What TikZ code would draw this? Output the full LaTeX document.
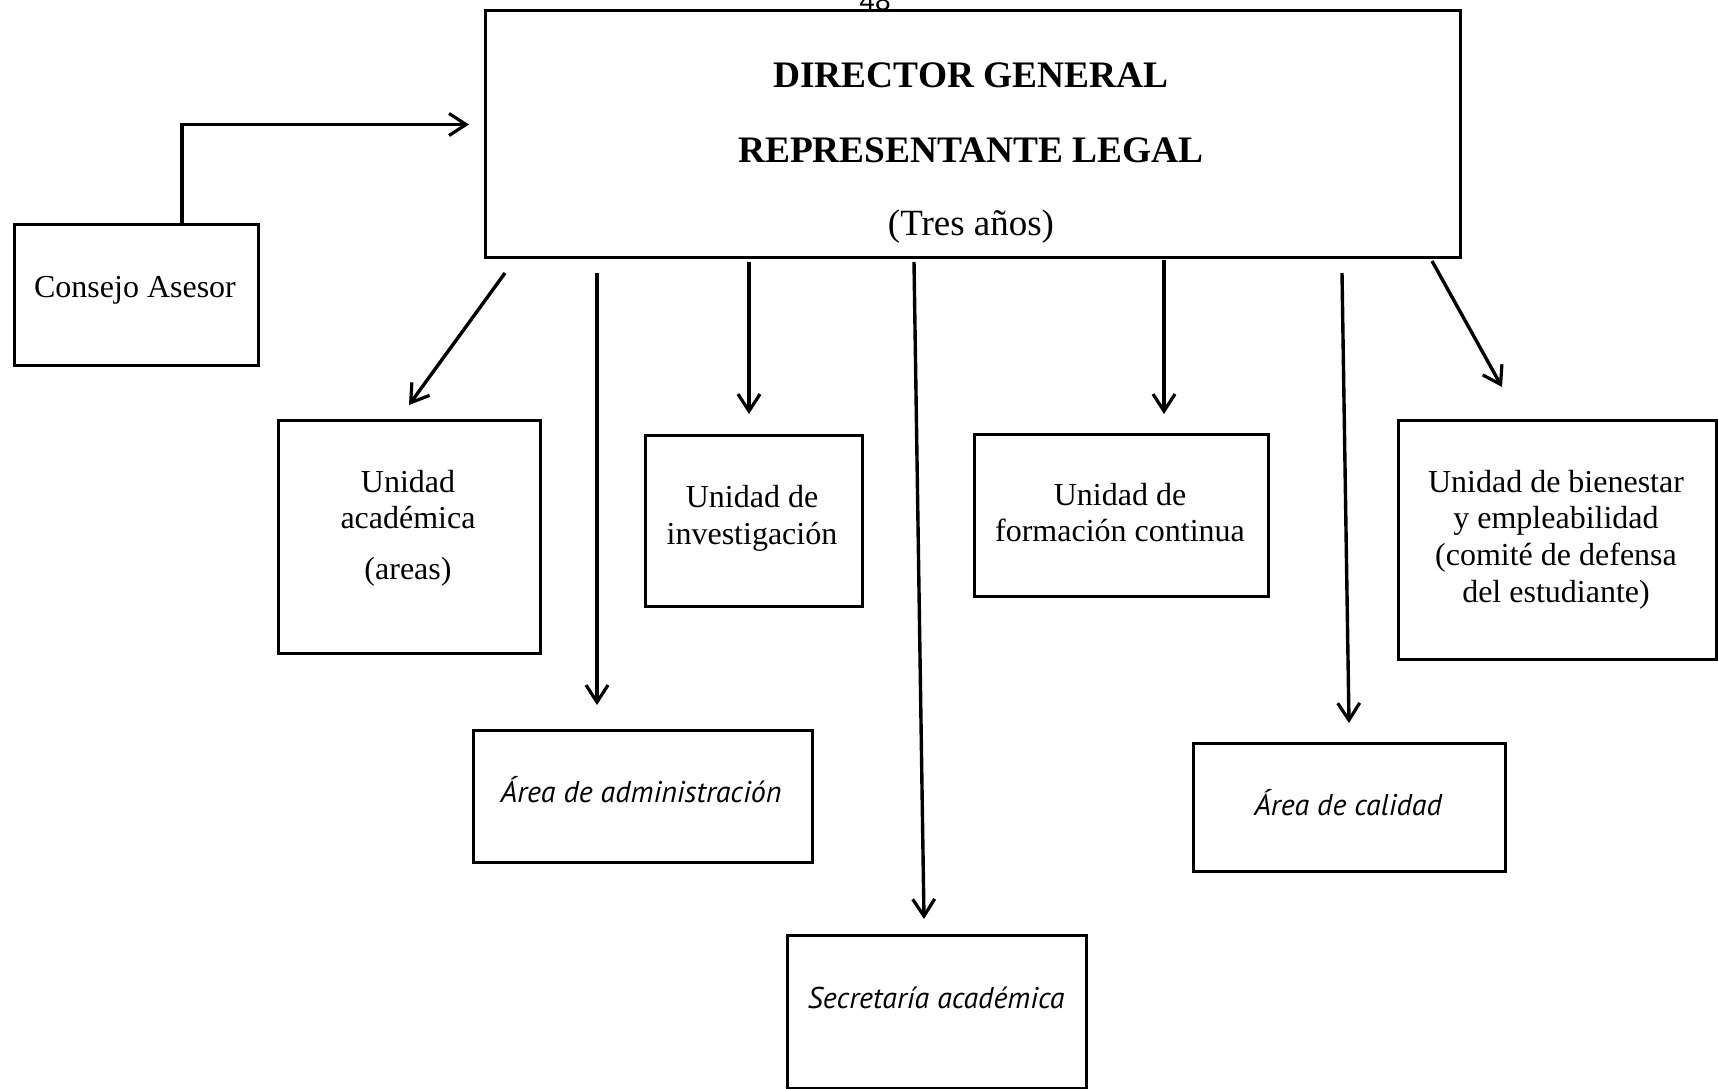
\documentclass[tikz,border=0pt]{standalone}
\usepackage{fontspec}
\setmainfont{Liberation Serif}
\newfontfamily\gillit{PT Sans}
\newfontfamily\pagefont{Liberation Sans}
\usetikzlibrary{arrows.meta,calc}
\begin{document}
\begin{tikzpicture}[x=1pt,y=-1pt,
  box/.style={draw,line width=3pt,anchor=north west,inner sep=0pt},
  txt/.style={anchor=base,inner sep=0pt,font=\fontsize{32}{36}\selectfont},
  ttl/.style={anchor=base,inner sep=0pt,font=\fontsize{37.4}{40}\selectfont\bfseries},
  itx/.style={anchor=base,inner sep=0pt,font=\gillit\fontsize{30}{34}\selectfont\itshape},
  arr/.style={line width=3.4pt,-{Straight Barb[length=17pt,width=22pt,line width=3.2pt]}}]
\fill[white] (0,0) rectangle (1718,1088);
\useasboundingbox (0,0) rectangle (1718,1088);
\begin{scope}
\clip (0,0) rectangle (1718,1088);
\node[anchor=base,inner sep=0pt,font=\pagefont\fontsize{28}{30}\selectfont] (pg) at (875,10) {48};
\end{scope}
% boxes
\node[box,minimum width=975pt,minimum height=247pt] (main) at (484,9) {};
\node[box,minimum width=244pt,minimum height=141pt] (cons) at (13,223) {};
\node[box,minimum width=262pt,minimum height=233pt] (acad) at (277,419) {};
\node[box,minimum width=217pt,minimum height=171pt] (inv) at (644,434) {};
\node[box,minimum width=294pt,minimum height=162pt] (form) at (973,433) {};
\node[box,minimum width=318pt,minimum height=239pt] (bien) at (1397,419) {};
\node[box,minimum width=339pt,minimum height=132pt] (admin) at (472,729) {};
\node[box,minimum width=312pt,minimum height=128pt] (cal) at (1192,742) {};
\node[box,minimum width=299pt,minimum height=153pt] (secr) at (786,934) {};
% texts
\node[ttl] (t1) at (971,87) {DIRECTOR GENERAL};
\node[ttl] (t2) at (971,162) {REPRESENTANTE LEGAL};
\node[anchor=base,inner sep=0pt,font=\fontsize{37}{40}\selectfont] (t3) at (971,235) {(Tres años)};
\node[txt] (c1) at (135,297) {Consejo Asesor};
\node[txt] (a1) at (408,492) {Unidad};
\node[txt] (a2) at (408,528) {académica};
\node[txt] (a3) at (408,579) {(areas)};
\node[txt] (i1) at (752,507) {Unidad de};
\node[txt] (i2) at (752,544) {investigación};
\node[txt] (f1) at (1120,505) {Unidad de};
\node[txt] (f2) at (1120,541) {formación continua};
\node[txt] (b1) at (1556,492) {Unidad de bienestar};
\node[txt] (b2) at (1556,528) {y empleabilidad};
\node[txt] (b3) at (1556,565) {(comité de defensa};
\node[txt] (b4) at (1556,602) {del estudiante)};
\node[itx] (ad1) at (641,802) {Área de administración};
\node[itx] (ca1) at (1348,815) {Área de calidad};
\node[itx] (se1) at (936,1008) {Secretaría académica};
% connectors
\draw[arr] ([shift={(169,0)}]cons.north west) |- ([shift={(-15,-9.5)}]main.west);
\draw[arr] ([shift={(21,14)}]main.south west) -- ([shift={(132,-14)}]acad.north west);
\draw[arr] ([shift={(113,14)}]main.south west) -- ([shift={(125,-24)}]admin.north west);
\draw[arr] ([shift={(265,3)}]main.south west) -- ([shift={(105,-20)}]inv.north west);
\draw[arr] ([shift={(430,3)}]main.south west) -- ([shift={(138,-15)}]secr.north west);
\draw[arr] ([shift={(680,1)}]main.south west) -- ([shift={(191,-19)}]form.north west);
\draw[arr] ([shift={(858,14)}]main.south west) -- ([shift={(157,-19)}]cal.north west);
\draw[arr] ([shift={(948,2)}]main.south west) -- ([shift={(105,-32)}]bien.north west);
\end{tikzpicture}
\end{document}
